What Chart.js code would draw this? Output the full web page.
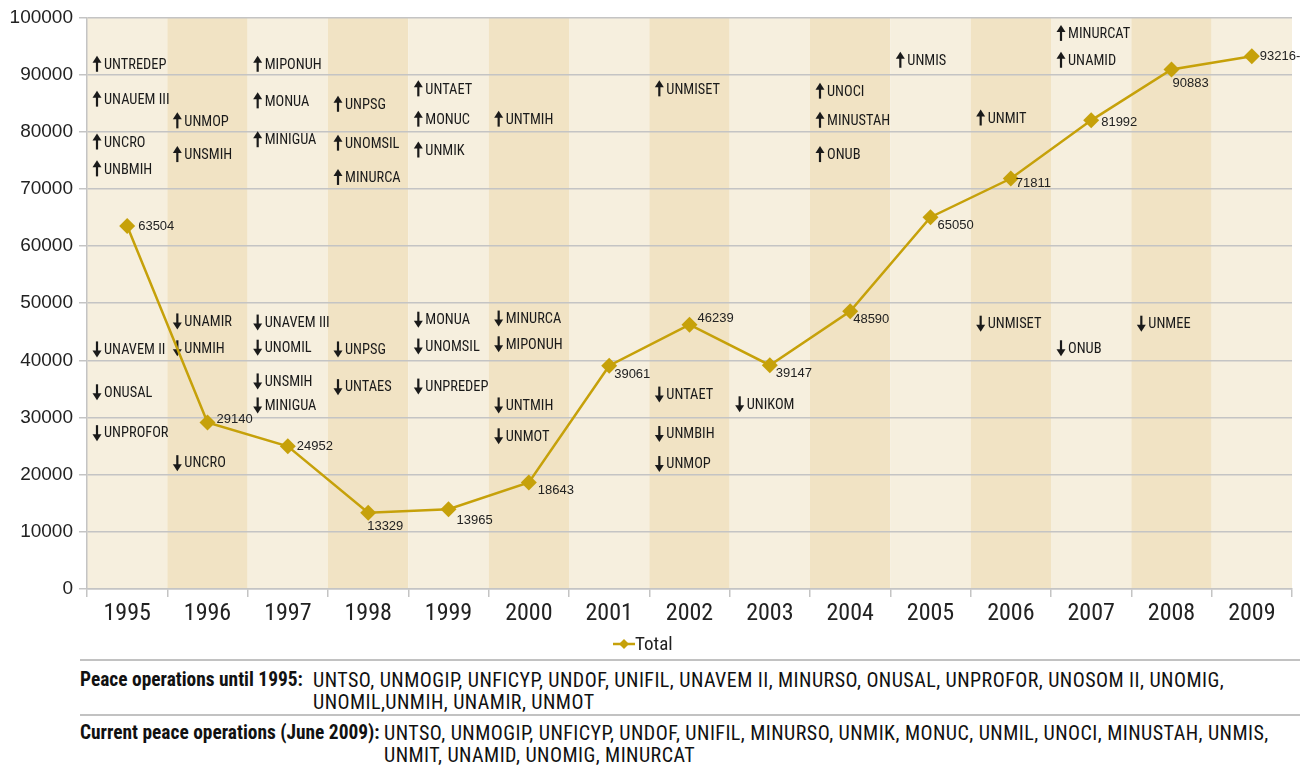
<!DOCTYPE html>
<html>
<head>
<meta charset="utf-8">
<script src="https://cdn.jsdelivr.net/npm/chart.js@4.4.1/dist/chart.umd.min.js"></script>
<style>
  body { margin: 0; background: #fff; width: 1310px; height: 768px; overflow: hidden; position: relative; }
  #wrap { position: absolute; left: 0; top: 0; width: 1310px; height: 660px; }
  .rule { position: absolute; left: 80px; width: 1220px; height: 0; border-top: 2px solid #c2c2c2; }
  .row { position: absolute; left: 80px; display: flex; font-family: "Roboto Condensed", sans-serif; color: #111; line-height: 22px; }
  .row b { white-space: nowrap; flex: none; font-size: 19.4px; }
  .row span { white-space: nowrap; font-size: 20px; letter-spacing: 0.45px; }
</style>
</head>
<body>
<div id="wrap"><canvas id="chart" width="1310" height="660"></canvas></div>
<div class="rule" style="top:659px"></div>
<div class="row" style="top:669px"><b style="width:233px">Peace operations until 1995:</b><span>UNTSO, UNMOGIP, UNFICYP, UNDOF, UNIFIL, UNAVEM II, MINURSO, ONUSAL, UNPROFOR, UNOSOM II, UNOMIG,<br>UNOMIL,UNMIH, UNAMIR, UNMOT</span></div>
<div class="rule" style="top:714px"></div>
<div class="row" style="top:722px"><b style="width:304px">Current peace operations (June 2009):</b><span>UNTSO, UNMOGIP, UNFICYP, UNDOF, UNIFIL, MINURSO, UNMIK, MONUC, UNMIL, UNOCI, MINUSTAH, UNMIS,<br>UNMIT, UNAMID, UNOMIG, MINURCAT</span></div>
<script>
const years = ['1995', '1996', '1997', '1998', '1999', '2000', '2001', '2002', '2003', '2004', '2005', '2006', '2007', '2008', '2009'];
const totals = [63504, 29140, 24952, 13329, 13965, 18643, 39061, 46239, 39147, 48590, 65050, 71811, 81992, 90883, 93216];
const valueLabels = ['63504', '29140', '24952', '13329', '13965', '18643', '39061', '46239', '39147', '48590', '65050', '71811', '81992', '90883', '93216-'];

// missions started [year, level, name]
const started = [
  ['1995', 91800, 'UNTREDEP'], ['1995', 85700, 'UNAUEM III'], ['1995', 78200, 'UNCRO'], ['1995', 73500, 'UNBMIH'],
  ['1996', 81900, 'UNMOP'], ['1996', 76000, 'UNSMIH'],
  ['1997', 91800, 'MIPONUH'], ['1997', 85400, 'MONUA'], ['1997', 78600, 'MINIGUA'],
  ['1998', 84800, 'UNPSG'], ['1998', 78000, 'UNOMSIL'], ['1998', 72000, 'MINURCA'],
  ['1999', 87500, 'UNTAET'], ['1999', 82200, 'MONUC'], ['1999', 76800, 'UNMIK'],
  ['2000', 82200, 'UNTMIH'],
  ['2002', 87500, 'UNMISET'],
  ['2004', 87100, 'UNOCI'], ['2004', 82000, 'MINUSTAH'], ['2004', 76000, 'ONUB'],
  ['2005', 92500, 'UNMIS'],
  ['2006', 82400, 'UNMIT'],
  ['2007', 97200, 'MINURCAT'], ['2007', 92500, 'UNAMID']
];

// missions ended [year, level, name]
const ended = [
  ['1995', 42000, 'UNAVEM II'], ['1995', 34500, 'ONUSAL'], ['1995', 27350, 'UNPROFOR'],
  ['1996', 46900, 'UNAMIR'], ['1996', 42200, 'UNMIH'], ['1996', 22100, 'UNCRO'],
  ['1997', 46700, 'UNAVEM III'], ['1997', 42300, 'UNOMIL'], ['1997', 36400, 'UNSMIH'], ['1997', 32200, 'MINIGUA'],
  ['1998', 42000, 'UNPSG'], ['1998', 35400, 'UNTAES'],
  ['1999', 47200, 'MONUA'], ['1999', 42500, 'UNOMSIL'], ['1999', 35500, 'UNPREDEP'],
  ['2000', 47400, 'MINURCA'], ['2000', 42900, 'MIPONUH'], ['2000', 32200, 'UNTMIH'], ['2000', 26800, 'UNMOT'],
  ['2002', 34100, 'UNTAET'], ['2002', 27200, 'UNMBIH'], ['2002', 21950, 'UNMOP'],
  ['2003', 32400, 'UNIKOM'],
  ['2006', 46500, 'UNMISET'],
  ['2007', 42200, 'ONUB'],
  ['2008', 46500, 'UNMEE']
];

// where each value label sits relative to its point
const labelOffsets = [[11, 0], [9, -3], [9, 0], [-1, 14], [8, 11], [9, 8], [5, 9], [8, -6], [6, 8], [3, 8], [7, 8], [5, 5], [10, 2], [1, 14], [8, 0]];

const GOLD = '#c6a10a';
const NARROW = '"Roboto Condensed", sans-serif';
const SANS = '"Liberation Sans", Arial, sans-serif';

const columns = {
  id: 'columns',
  beforeDraw(chart) {
    const {ctx, chartArea, scales: {x}} = chart;
    const w = x.width / years.length;
    ctx.save();
    years.forEach((y, i) => {
      const cx = x.getPixelForValue(i);
      ctx.fillStyle = i % 2 ? '#f1e3c4' : '#f6efde';
      ctx.fillRect(cx - w / 2, chartArea.top, w, chartArea.bottom - chartArea.top);
    });
    ctx.restore();
  }
};

function arrow(ctx, x, y, up) {
  const h = 7.5;
  const d = up ? -1 : 1;
  ctx.beginPath();
  ctx.moveTo(x, y - d * h);
  ctx.lineTo(x, y + d * (h - 4));
  ctx.lineWidth = 2.2;
  ctx.strokeStyle = '#1a1a1a';
  ctx.stroke();
  ctx.beginPath();
  ctx.moveTo(x, y + d * (h + 1));
  ctx.lineTo(x - 4.5, y + d * (h - 6));
  ctx.lineTo(x + 4.5, y + d * (h - 6));
  ctx.closePath();
  ctx.fillStyle = '#1a1a1a';
  ctx.fill();
}

const missions = {
  id: 'missions',
  beforeDatasetsDraw(chart) {
    const {ctx, scales: {x, y}} = chart;
    const w = x.width / years.length;
    ctx.save();
    ctx.font = '15px ' + NARROW;
    ctx.textBaseline = 'middle';
    ctx.textAlign = 'left';
    const draw = (list, up) => list.forEach(([yr, lvl, name]) => {
      const left = x.getPixelForValue(years.indexOf(yr)) - w / 2;
      const py = y.getPixelForValue(lvl);
      arrow(ctx, left + 10, py, up);
      ctx.save();
      ctx.translate(left + 17, py + 1);
      ctx.scale(0.96, 1);
      ctx.fillStyle = '#1a1a1a';
      ctx.fillText(name, 0, 0);
      ctx.restore();
    });
    draw(started, true);
    draw(ended, false);
    ctx.restore();
  },
  afterDatasetsDraw(chart) {
    const {ctx} = chart;
    const pts = chart.getDatasetMeta(0).data;
    ctx.save();
    ctx.font = '13px ' + SANS;
    ctx.fillStyle = '#222';
    ctx.textBaseline = 'middle';
    pts.forEach((p, i) => {
      ctx.fillText(valueLabels[i], p.x + labelOffsets[i][0], p.y + labelOffsets[i][1]);
    });
    // legend
    const ly = 644, lx = 613;
    ctx.beginPath();
    ctx.moveTo(lx, ly);
    ctx.lineTo(lx + 22, ly);
    ctx.strokeStyle = GOLD;
    ctx.lineWidth = 2.5;
    ctx.stroke();
    ctx.beginPath();
    ctx.moveTo(lx + 11, ly - 5);
    ctx.lineTo(lx + 16, ly);
    ctx.lineTo(lx + 11, ly + 5);
    ctx.lineTo(lx + 6, ly);
    ctx.closePath();
    ctx.fillStyle = GOLD;
    ctx.fill();
    ctx.font = '19px ' + NARROW;
    ctx.fillStyle = '#222';
    ctx.fillText('Total', lx + 22, ly + 1);
    ctx.restore();
  }
};

new Chart(document.getElementById('chart'), {
  type: 'line',
  data: {
    labels: years,
    datasets: [{
      label: 'Total',
      data: totals,
      borderColor: GOLD,
      backgroundColor: GOLD,
      borderWidth: 2.5,
      pointStyle: 'rectRot',
      pointRadius: 8,
      pointBorderWidth: 0,
      pointBackgroundColor: GOLD,
      tension: 0
    }]
  },
  plugins: [columns, missions],
  options: {
    responsive: false,
    animation: false,
    layout: {padding: {left: 0, right: 18, top: 15, bottom: 31}},
    scales: {
      x: {
        offset: true,
        grid: {offset: true, drawOnChartArea: false, drawTicks: true, tickLength: 8, color: '#c4c4c4', lineWidth: 1.5},
        border: {color: '#c4c4c4', width: 1.5},
        ticks: {font: {family: NARROW, size: 24}, color: '#222', padding: 3},
        afterFit(s) { s.height = 40; }
      },
      y: {
        min: 0,
        max: 100000,
        ticks: {stepSize: 10000, font: {family: SANS, size: 19}, color: '#222', padding: 6, callback: (v) => String(v)},
        grid: {color: '#c4c4c4', lineWidth: 1.5, tickLength: 8},
        border: {color: '#c4c4c4', width: 1.5},
        afterFit(s) { s.width = 87; }
      }
    },
    plugins: {
      legend: {display: false},
      tooltip: {enabled: false}
    }
  }
});
</script>
</body>
</html>
